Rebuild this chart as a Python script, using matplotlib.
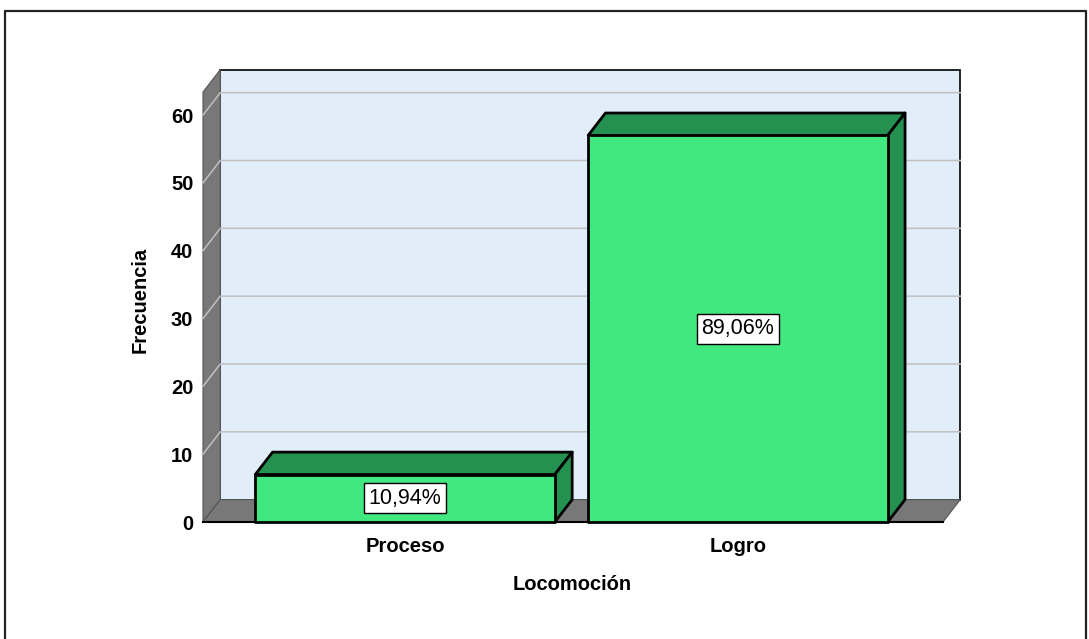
import matplotlib.pyplot as plt
from matplotlib.patches import Polygon
from matplotlib.lines import Line2D

categories = ['Proceso', 'Logro']
frecuencias = [7, 57]
porcentajes = ['10,94%', '89,06%']
yticks = [0, 10, 20, 30, 40, 50, 60]

xlabel = 'Locomoción'
ylabel = 'Frecuencia'

plt.rcParams['font.family'] = ['Liberation Sans', 'DejaVu Sans']

c_wall = '#e1edf9'
c_side = '#787878'
c_grid = '#c0c0c0'
c_front = '#41e87f'
c_dark = '#259150'

W, H = 1089, 639
fig = plt.figure(figsize=(W / 100, H / 100), dpi=100)
# front plane of the 3D box: x 203..943 px, y 522..92 px
ax = fig.add_axes([203 / W, (H - 522) / H, 740 / W, (522 - 92) / H])
x0, x1 = -0.607, 1.616
ymax = 63.4
ax.set_xlim(x0, x1)
ax.set_ylim(0, ymax)
for s in ax.spines.values():
    s.set_visible(False)

dx, dy = 0.052, 3.3   # depth offset in data units
bw = 0.9

# back wall, left wall, floor
ax.add_patch(Polygon([(x0 + dx, dy), (x1 + dx, dy), (x1 + dx, ymax + dy), (x0 + dx, ymax + dy)],
                     closed=True, fc=c_wall, ec='black', lw=1.2, clip_on=False, zorder=1))
ax.add_patch(Polygon([(x0, 0), (x0 + dx, dy), (x0 + dx, ymax + dy), (x0, ymax)],
                     closed=True, fc=c_side, ec='#555555', lw=0.8, clip_on=False, zorder=1))
ax.add_patch(Polygon([(x0, 0), (x1, 0), (x1 + dx, dy), (x0 + dx, dy)],
                     closed=True, fc=c_side, ec='#555555', lw=0.8, clip_on=False, zorder=1))
ax.plot([x0, x1], [0, 0], color='black', lw=1.5, clip_on=False, zorder=2)

# grid lines on walls
for t in yticks[1:]:
    ax.plot([x0, x0 + dx, x1 + dx], [t, t + dy, t + dy], color=c_grid, lw=1.1,
            clip_on=False, zorder=2)

# 3D bars
for i, (v, p) in enumerate(zip(frecuencias, porcentajes)):
    l, r = i - bw / 2, i + bw / 2
    ax.add_patch(Polygon([(l, v), (r, v), (r + dx, v + dy), (l + dx, v + dy)],
                         closed=True, fc=c_dark, ec='black', lw=2, joinstyle='round',
                         clip_on=False, zorder=3))
    ax.add_patch(Polygon([(r, 0), (r + dx, dy), (r + dx, v + dy), (r, v)],
                         closed=True, fc=c_dark, ec='black', lw=2, joinstyle='round',
                         clip_on=False, zorder=3))
    ax.add_patch(Polygon([(l, 0), (r, 0), (r, v), (l, v)],
                         closed=True, fc=c_front, ec='black', lw=2, joinstyle='round',
                         clip_on=False, zorder=4))
    ax.text(i, v / 2, p, ha='center', va='center', fontsize=15.5, zorder=5,
            bbox=dict(boxstyle='square,pad=0.2', fc='white', ec='black', lw=1))

ax.set_yticks(yticks)
ax.set_xticks(range(len(categories)))
ax.set_xticklabels(categories)
ax.tick_params(axis='y', length=0, pad=7, labelsize=14.5)
ax.tick_params(axis='x', length=0, pad=11, labelsize=14.5)
for lb in ax.get_xticklabels() + ax.get_yticklabels():
    lb.set_fontweight('bold')

fig.text(572 / W, 1 - 585 / H, xlabel, ha='center', va='center', fontsize=14.5, fontweight='bold')
fig.text(140 / W, 1 - 300 / H, ylabel, ha='center', va='center', rotation=90,
         fontsize=14.5, fontweight='bold')

# outer frame (open at bottom)
fx0, fx1, fy = 5 / W, 1086 / W, 1 - 11 / H
fig.add_artist(Line2D([fx0, fx0, fx1, fx1], [0, fy, fy, 0], transform=fig.transFigure,
                      color='#222222', lw=1.6))

fig.savefig('out.png', dpi=100)
